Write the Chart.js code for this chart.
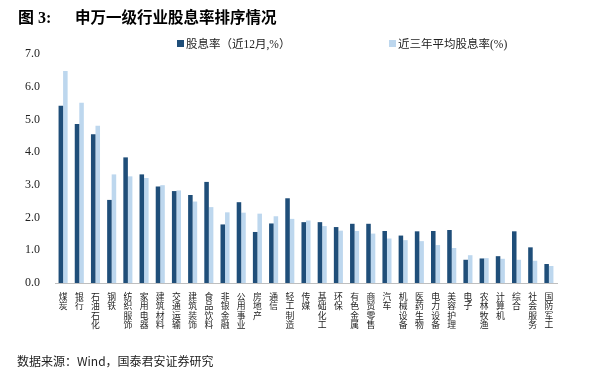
<!DOCTYPE html>
<html>
<head>
<meta charset="utf-8">
<script src="https://cdn.jsdelivr.net/npm/chart.js@4/dist/chart.umd.min.js"></script>
<style>
  html, body { margin: 0; padding: 0; background: #fff; }
  #wrap { position: relative; width: 591px; height: 380px; overflow: hidden; }
  #c { position: absolute; left: 0; top: 0; }
  .title { position: absolute; top: 5px; font-family: "Noto Sans CJK SC", sans-serif; font-weight: bold; font-size: 15.5px; color: #000; line-height: 22px; white-space: nowrap; }
  .legend { position: absolute; top: 36px; font-family: "Liberation Serif", "Noto Sans CJK SC", serif; font-size: 11.5px; color: #222; line-height: 16px; white-space: nowrap; }
  .legend i { display: inline-block; width: 7px; height: 7px; margin-right: 2px; vertical-align: 1px; }
  .footer { position: absolute; left: 17px; top: 352px; font-family: "Noto Sans CJK SC", sans-serif; font-size: 12px; color: #222; line-height: 18px; white-space: nowrap; }
</style>
</head>
<body>
<div id="wrap">
  <canvas id="c" width="591" height="380"></canvas>
  <div class="title" style="left:18px;"><span style="font-family:'Liberation Serif','Noto Sans CJK SC';font-size:16px;">图 3:</span></div>
  <div class="title" style="left:75px;" id="mainTitle"></div>
  <div class="legend" id="leg1" style="left:177px;"></div>
  <div class="legend" id="leg2" style="left:389px;"></div>
  <div class="footer" id="footer"></div>
</div>
<script>
const chartTitle = "申万一级行业股息率排序情况";
const sourceNote = "数据来源：Wind，国泰君安证券研究";
const seriesNames = ["股息率（近12月,%）", "近三年平均股息率(%)"];
const seriesColors = ["#1F4E79", "#BDD7EE"];
const categories = ["煤炭","银行","石油石化","钢铁","纺织服饰","家用电器","建筑材料","交通运输","建筑装饰","食品饮料","非银金融","公用事业","房地产","通信","轻工制造","传媒","基础化工","环保","有色金属","商贸零售","汽车","机械设备","医药生物","电力设备","美容护理","电子","农林牧渔","计算机","综合","社会服务","国防军工"];
const dividendTTM = [5.42,4.86,4.55,2.54,3.84,3.32,2.95,2.81,2.69,3.09,1.79,2.47,1.56,1.82,2.59,1.86,1.86,1.71,1.81,1.81,1.59,1.45,1.58,1.59,1.62,0.71,0.75,0.82,1.58,1.09,0.58];
const dividend3Y = [6.48,5.51,4.81,3.32,3.26,3.21,2.99,2.83,2.49,2.32,2.16,2.15,2.12,2.04,1.96,1.91,1.74,1.60,1.59,1.51,1.36,1.31,1.28,1.16,1.07,0.85,0.76,0.74,0.71,0.68,0.52];
const yTicks = [0,1,2,3,4,5,6,7];

document.getElementById('mainTitle').textContent = chartTitle;
document.getElementById('footer').textContent = sourceNote;
document.getElementById('leg1').innerHTML = '<i style="background:' + seriesColors[0] + '"></i>' + seriesNames[0];
document.getElementById('leg2').innerHTML = '<i style="background:' + seriesColors[1] + '"></i>' + seriesNames[1];

new Chart(document.getElementById('c'), {
  type: 'bar',
  data: {
    labels: categories.map(s => s.split('')),
    datasets: [
      { label: seriesNames[0], data: dividendTTM, backgroundColor: seriesColors[0], borderWidth: 0 },
      { label: seriesNames[1], data: dividend3Y, backgroundColor: seriesColors[1], borderWidth: 0 }
    ]
  },
  options: {
    responsive: false,
    animation: false,
    devicePixelRatio: 1,
    layout: { padding: { left: 0, right: 34, top: 54, bottom: 0 } },
    plugins: { legend: { display: false }, title: { display: false }, tooltip: { enabled: false } },
    datasets: { bar: { categoryPercentage: 0.56, barPercentage: 1.0 } },
    scales: {
      x: {
        grid: { display: false, drawTicks: false },
        border: { display: true, color: '#BFBFBF', width: 1 },
        ticks: {
          autoSkip: false, maxRotation: 0, minRotation: 0, padding: 9,
          color: '#222',
          font: { family: "'Noto Sans CJK SC', sans-serif", size: 8.8, lineHeight: '9.3px' }
        },
        afterFit: (s) => { s.height = 97; }
      },
      y: {
        min: 0, max: 7,
        afterBuildTicks: (s) => { s.ticks = yTicks.map(v => ({ value: v })); },
        grid: { display: false, drawTicks: false },
        border: { display: false },
        ticks: {
          padding: 15, color: '#222',
          font: { family: "'Liberation Serif', serif", size: 12 },
          callback: (v) => Number(v).toFixed(1)
        },
        afterFit: (s) => { s.width = 55; }
      }
    }
  }
});
</script>
</body>
</html>
